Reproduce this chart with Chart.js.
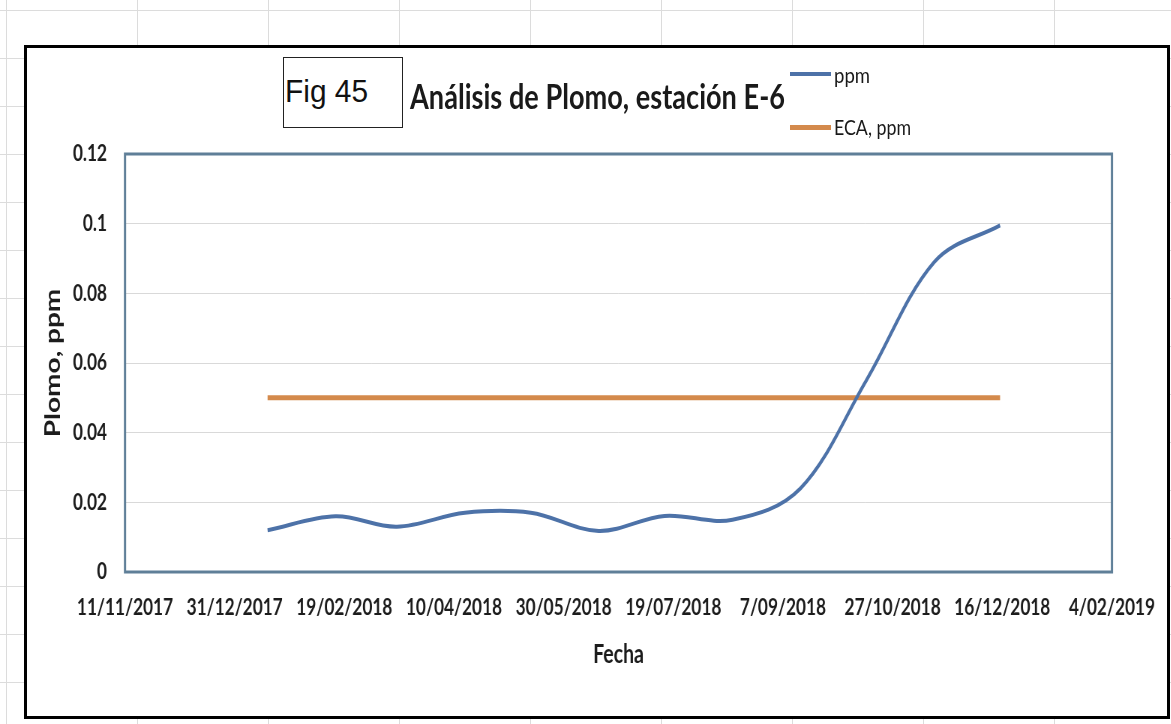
<!DOCTYPE html>
<html>
<head>
<meta charset="utf-8">
<script src="https://cdn.jsdelivr.net/npm/chart.js@4.4.1/dist/chart.umd.min.js"></script>
<style>
    html, body { margin: 0; padding: 0; }
    body {
        width: 1171px;
        height: 724px;
        overflow: hidden;
        position: relative;
        background-color: #fff;
        background-image:
            linear-gradient(to right, #dcdcdc 1px, transparent 1px),
            linear-gradient(to bottom, #dcdcdc 1px, transparent 1px);
        background-size: 131px 48px;
        background-position: 6px 10px;
    }
    #chartBox {
        position: absolute;
        left: 24px; top: 45px;
        width: 1140px; height: 668px;
        border: 3px solid #000;
        background: #fff;
    }
    /* the screenshot is squeezed sideways, so the canvas is drawn wider and squeezed back */
    #wrap {
        position: absolute;
        left: 0; top: 0;
        width: 1562px; height: 724px;
        transform: scaleX(0.75);
        transform-origin: 0 0;
    }
    #figBox {
        position: absolute;
        left: 283px; top: 57px;
        width: 118px; height: 69px;
        border: 1px solid #222;
        background: #fff;
    }
    .txt {
        position: absolute;
        white-space: nowrap;
        line-height: 1;
        display: inline-block;
        transform-origin: 0 0;
    }
    .legendLine { position: absolute; }
</style>
</head>
<body>
<div id="chartBox"></div>
<div id="wrap"><canvas id="plomoChart"></canvas></div>
<div id="figBox"></div>
<span class="txt" id="figText" style="font-family:'Liberation Sans', Arial, sans-serif; font-size:32px; color:#111;">Fig 45</span>
<span class="txt" id="chartTitle" style="font-family:Lato, sans-serif; font-weight:bold; font-size:34px; color:#1a1a1a;">Análisis de Plomo, estación E-6</span>
<div id="legendArea"></div>

<script>
const fechas = ['15/01/2018', '15/02/2018', '15/03/2018', '15/04/2018', '15/05/2018', '15/06/2018',
    '15/07/2018', '15/08/2018', '15/09/2018', '15/10/2018', '15/11/2018', '15/12/2018'];
const ppm = [0.012, 0.016, 0.013, 0.017, 0.017, 0.0118, 0.0161, 0.015, 0.024, 0.055, 0.089, 0.0995];
const eca = [0.05, 0.05, 0.05, 0.05, 0.05, 0.05, 0.05, 0.05, 0.05, 0.05, 0.05, 0.05];
const xTickLabels = ['11/11/2017', '31/12/2017', '19/02/2018', '10/04/2018', '30/05/2018',
    '19/07/2018', '7/09/2018', '27/10/2018', '16/12/2018', '4/02/2019'];
const yTicks = [0, 0.02, 0.04, 0.06, 0.08, 0.1, 0.12];

const SQUEEZE = 0.75;

function toDay(s) {
    const [d, m, y] = s.split('/').map(Number);
    return Date.UTC(y, m - 1, d) / 86400000;
}

// place a text by its baseline and squeeze it to the width seen in the picture
function placeText(el, left, baseline, width, ascent) {
    const size = parseFloat(el.style.fontSize);
    el.style.left = left + 'px';
    el.style.top = (baseline - ascent * size) + 'px';
    const w = el.getBoundingClientRect().width;
    el.style.transform = `scaleX(${width / w})`;
}

const plotFrame = {
    id: 'plotFrame',
    beforeDatasetsDraw(chart) {
        const { ctx, chartArea } = chart;
        ctx.save();
        ctx.strokeStyle = '#5f7f98';
        ctx.lineWidth = 3;
        ctx.strokeRect(chartArea.left, chartArea.top, chartArea.right - chartArea.left, chartArea.bottom - chartArea.top);
        ctx.restore();
    }
};

const tickFont = { family: 'Lato', size: 23, weight: 'bold' };

const chart = new Chart(document.getElementById('plomoChart').getContext('2d'), {
    type: 'line',
    data: {
        datasets: [{
            label: 'ppm',
            data: fechas.map((f, i) => ({ x: toDay(f), y: ppm[i] })),
            borderColor: '#4d72a8',
            borderWidth: 4,
            tension: 0.35,
            pointRadius: 0,
            fill: false
        }, {
            label: 'ECA, ppm',
            data: fechas.map((f, i) => ({ x: toDay(f), y: eca[i] })),
            borderColor: '#d48a4c',
            borderWidth: 5,
            tension: 0,
            pointRadius: 0,
            fill: false
        }]
    },
    options: {
        responsive: true,
        maintainAspectRatio: false,
        animation: false,
        layout: { padding: { top: 154, right: 78, bottom: 0, left: 0 } },
        plugins: {
            legend: { display: false },
            tooltip: { enabled: false }
        },
        scales: {
            x: {
                type: 'linear',
                min: toDay(xTickLabels[0]),
                max: toDay(xTickLabels[xTickLabels.length - 1]),
                afterBuildTicks: scale => { scale.ticks = xTickLabels.map(t => ({ value: toDay(t) })); },
                afterFit: scale => { scale.height = 152; },
                grid: { display: false, drawTicks: false },
                border: { display: false },
                ticks: {
                    autoSkip: false,
                    maxRotation: 0,
                    padding: 22,
                    color: '#1c1c1c',
                    font: tickFont,
                    callback: (v, i) => xTickLabels[i]
                },
                title: {
                    display: true,
                    text: 'Fecha',
                    color: '#1c1c1c',
                    font: { family: 'Lato', size: 26, weight: 'bold' },
                    padding: { top: 0, bottom: 54 }
                }
            },
            y: {
                min: 0,
                max: 0.12,
                afterBuildTicks: scale => { scale.ticks = yTicks.map(v => ({ value: v })); },
                afterFit: scale => { scale.width = 125 / SQUEEZE; },
                grid: { color: '#d9d9d9', lineWidth: 1, drawTicks: false },
                border: { display: false },
                ticks: {
                    padding: 24,
                    color: '#1c1c1c',
                    font: tickFont,
                    callback: (v, i) => String(yTicks[i])
                },
                title: {
                    display: true,
                    text: 'Plomo, ppm',
                    color: '#1c1c1c',
                    font: { family: 'Lato', size: 28, weight: 'bold' },
                    padding: { top: 54, bottom: 0 }
                }
            }
        }
    },
    plugins: [plotFrame]
});

function renderLegend() {
    const area = document.getElementById('legendArea');
    const rows = [{ y: 73.5, base: 83, width: 36 }, { y: 127.5, base: 135, width: 77 }];
    chart.data.datasets.forEach((ds, i) => {
        const r = rows[i];
        const line = document.createElement('div');
        line.className = 'legendLine';
        line.style.left = '790px';
        line.style.width = '41px';
        line.style.height = ds.borderWidth + 'px';
        line.style.top = (r.y - ds.borderWidth / 2) + 'px';
        line.style.background = ds.borderColor;
        area.appendChild(line);
        const t = document.createElement('span');
        t.className = 'txt';
        t.style.fontFamily = 'Lato, sans-serif';
        t.style.fontSize = '21px';
        t.style.color = '#1a1a1a';
        t.textContent = ds.label;
        area.appendChild(t);
        placeText(t, 834, r.base, r.width, 0.887);
    });
}

placeText(document.getElementById('figText'), 285, 102, 83, 0.8465);
placeText(document.getElementById('chartTitle'), 410, 109, 375, 0.887);
renderLegend();
</script>
</body>
</html>
